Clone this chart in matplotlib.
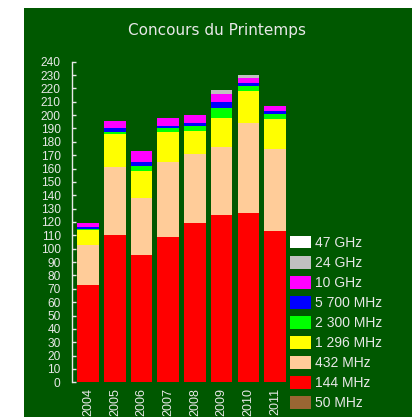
import matplotlib
matplotlib.use("Agg")
import matplotlib.pyplot as plt
from matplotlib.patches import Rectangle, Patch

years = ["2004", "2005", "2006", "2007", "2008", "2009", "2010", "2011"]
bands = ["50 MHz", "144 MHz", "432 MHz", "1 296 MHz", "2 300 MHz",
         "5 700 MHz", "10 GHz", "24 GHz", "47 GHz"]
colors = ["#996633", "#ff0000", "#ffcc99", "#ffff00", "#00ff00",
          "#0000ff", "#ff00ff", "#c0c0c0", "#ffffff"]

v50 = [0, 0, 0, 0, 0, 0, 0, 0]
v144 = [73, 110, 95, 109, 119, 125, 127, 113]
v432 = [30, 51, 43, 56, 52, 51, 67, 62]
v1296 = [11, 25, 20, 22, 17, 22, 24, 22]
v2300 = [1, 1, 4, 3, 4, 7, 4, 4]
v5700 = [1, 3.5, 3, 2, 2, 5, 2, 2]
v10g = [3, 5, 8, 5.5, 6, 6, 4, 4]
v24g = [0, 0, 0, 0, 0, 3, 2, 0]
v47g = [0, 0, 0, 0, 0, 0, 0, 0]
series = [v50, v144, v432, v1296, v2300, v5700, v10g, v24g, v47g]

W, H = 412, 417
fig = plt.figure(figsize=(W / 100, H / 100), dpi=100)
fig.patch.set_facecolor("white")
bg = "#005800"
fig.patches.append(Rectangle((24 / W, 0), 1 - 24 / W, 1 - 8 / H,
                             transform=fig.transFigure, facecolor=bg,
                             edgecolor="none", zorder=-10))

ax = fig.add_axes([71.7 / W, 1 - 382.3 / H, (290 - 71.7) / W, (382.3 - 61.7) / H])
ax.set_facecolor("none")
x = list(range(len(years)))
bottom = [0] * len(years)
for vals, col in zip(series, colors):
    ax.bar(x, vals, bottom=bottom, width=0.81, color=col, edgecolor="none")
    bottom = [b + v for b, v in zip(bottom, vals)]

ax.set_ylim(0, 240)
ax.set_xlim(-0.62, 7.56)
ax.set_yticks(range(0, 241, 10))
ax.set_xticks(x)
ax.set_xticklabels(years, rotation=90, fontsize=9, family="Liberation Sans",
                   color="#e8e8e8")
for lab in ax.get_yticklabels():
    lab.set_family("Liberation Sans")
ax.tick_params(axis="y", direction="in", length=3, width=1, colors="#e8e8e8",
               labelsize=8.6, pad=8)
ax.tick_params(axis="x", length=0, pad=4, colors="#e8e8e8")
for s in ["top", "right", "bottom"]:
    ax.spines[s].set_visible(False)
ax.spines["left"].set_color("#e8e8e8")
ax.spines["left"].set_linewidth(1)

fig.text(216.5 / W, 1 - 30 / H, "Concours du Printemps", ha="center",
         va="center", color="#e8e8e8", fontsize=11, family="DejaVu Sans")

handles = [Patch(facecolor=c, edgecolor="none", label=b)
           for b, c in zip(bands[::-1], colors[::-1])]
leg = fig.legend(handles=handles, loc="upper left",
                 bbox_to_anchor=(290 / W, 1 - 236 / H), frameon=False,
                 borderpad=0, borderaxespad=0, handlelength=1.5,
                 handleheight=1.0, handletextpad=0.32, labelspacing=0.435,
                 prop={"family": "Liberation Sans", "size": 10})
for t in leg.get_texts():
    t.set_color("#e8e8e8")

fig.savefig("out.png", dpi=100, facecolor=fig.get_facecolor())
